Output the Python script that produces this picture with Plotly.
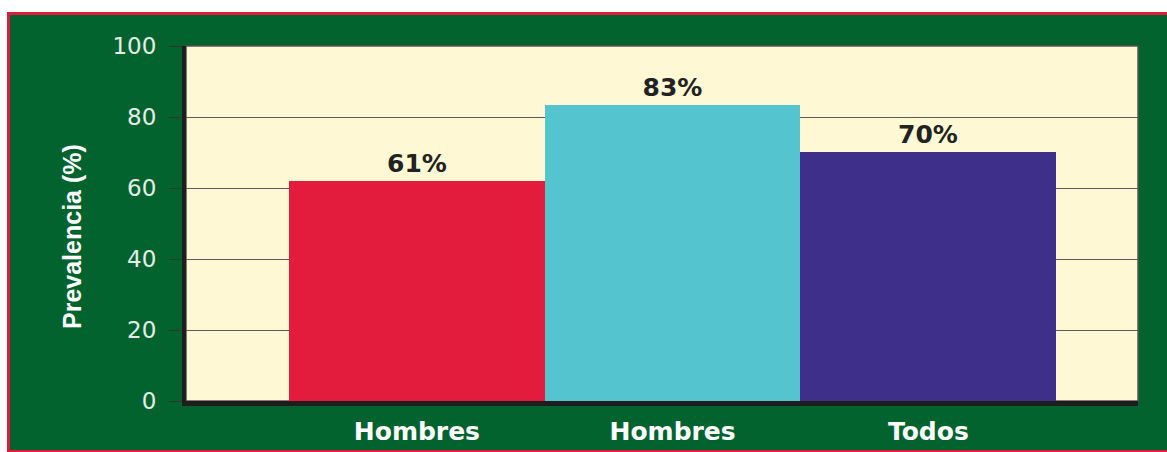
import plotly.graph_objects as go

categories = ["Hombres", "Hombres", "Todos"]
values = [62.0, 83.5, 70.2]
labels = ["61%", "83%", "70%"]
colors = ["#E31C3D", "#54C5CF", "#3E2F8B"]
y_ticks = [0, 20, 40, 60, 80, 100]

W, H = 1167, 452
ML, MR, MT, MB = 186, 29, 46, 51
PW, PH = W - ML - MR, H - MT - MB


def px_x(px):
    return (px - ML) / PW


def px_y(py):
    return (H - MB - py) / PH


xs = list(range(len(categories)))

fig = go.Figure(
    go.Bar(
        x=xs,
        y=values,
        width=1,
        marker=dict(color=colors, line=dict(width=0)),
        text=labels,
        textposition="outside",
        textfont=dict(family="DejaVu Sans", size=25, color="#222222", weight="bold"),
        cliponaxis=False,
    )
)

shapes = [
    dict(type="rect", xref="paper", yref="paper", layer="below",
         x0=px_x(7), x1=px_x(1180), y0=px_y(453), y1=px_y(12),
         fillcolor="#E01A3A", line=dict(width=0)),
    dict(type="rect", xref="paper", yref="paper", layer="below",
         x0=px_x(10), x1=px_x(1180), y0=px_y(450), y1=px_y(15),
         fillcolor="#02632F", line=dict(width=0)),
    dict(type="rect", xref="paper", yref="paper", layer="below",
         x0=0, x1=1, y0=0, y1=1,
         fillcolor="#FEF9D4", line=dict(color="#555555", width=1.5)),
]

fig.add_annotation(
    text="Prevalencia (%)", textangle=-90, showarrow=False,
    xref="paper", yref="paper", x=px_x(72), y=px_y(237),
    xanchor="center", yanchor="middle",
    font=dict(family="Liberation Sans", size=25, color="#FFFFFF", weight="bold"),
)

fig.update_layout(
    width=W, height=H,
    margin=dict(l=ML, r=MR, t=MT, b=MB, pad=0, autoexpand=False),
    paper_bgcolor="#FFFFFF",
    plot_bgcolor="#FEF9D4",
    bargap=0,
    showlegend=False,
    shapes=shapes,
    xaxis=dict(
        range=[-0.903, 2.82],
        tickvals=xs, ticktext=categories,
        showgrid=False, zeroline=False, automargin=False,
        showline=True, linewidth=5, linecolor="#1E1E1E",
        ticks="",
        tickfont=dict(family="DejaVu Sans", size=25, color="#FFFFFF", weight="bold"),
        ticklabelstandoff=4,
    ),
    yaxis=dict(
        range=[0, 100],
        tickvals=y_ticks,
        showgrid=True, gridcolor="#5A5A5A", gridwidth=1.2,
        zeroline=False, automargin=False,
        showline=True, linewidth=4, linecolor="#1E1E1E",
        ticks="outside", ticklen=13, tickwidth=1.2, tickcolor="#333333",
        tickfont=dict(family="DejaVu Sans", size=23, color="#E6EDE6"),
        ticklabelstandoff=8,
    ),
)

fig.write_html("out.html")
